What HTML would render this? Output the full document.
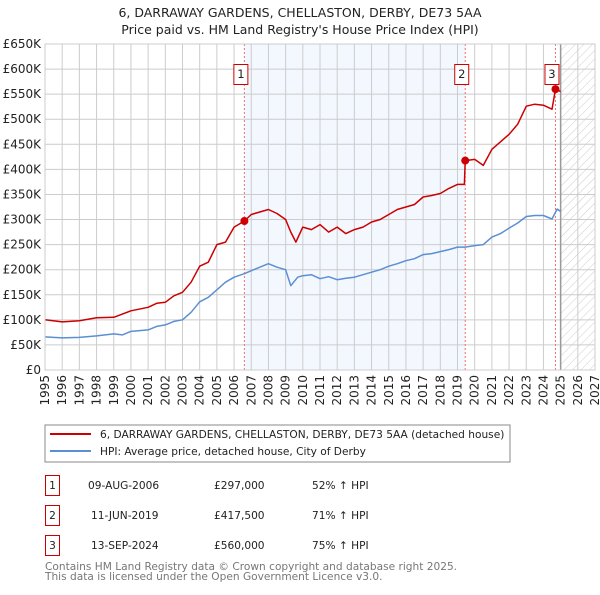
<!DOCTYPE html>
<html><head><meta charset="utf-8"><style>
body{margin:0;background:#fff;font-family:"Liberation Sans","DejaVu Sans",sans-serif;}
svg text{font-family:"DejaVu Sans","Liberation Sans",sans-serif;}
</style></head><body>
<svg id="c" width="600" height="590" xmlns="http://www.w3.org/2000/svg">
<defs><pattern id="hatch" width="6" height="6" patternUnits="userSpaceOnUse" patternTransform="rotate(45)"><line x1="0" y1="0" x2="0" y2="6" stroke="#ccc" stroke-width="1"/></pattern></defs>
<text x="300" y="17" text-anchor="middle" font-size="12.5" fill="#222">6, DARRAWAY GARDENS, CHELLASTON, DERBY, DE73 5AA</text>
<text x="300" y="34" text-anchor="middle" font-size="12.5" fill="#222">Price paid vs. HM Land Registry's House Price Index (HPI)</text>
<g id="plot"></g>
<rect x="45" y="425" width="465" height="37" fill="#fff" stroke="#888"/>
<line x1="50" y1="434" x2="91" y2="434" stroke="#cc0000" stroke-width="2"/>
<text x="100" y="438" font-size="10.6" fill="#222">6, DARRAWAY GARDENS, CHELLASTON, DERBY, DE73 5AA (detached house)</text>
<line x1="50" y1="451" x2="91" y2="451" stroke="#5b8fd4" stroke-width="2"/>
<text x="100" y="455" font-size="10.6" fill="#222">HPI: Average price, detached house, City of Derby</text>
<g font-size="10.6" fill="#222">
<rect x="45.5" y="475.5" width="14" height="20" fill="#fff" stroke="#cc0000"/><text x="52.5" y="489" text-anchor="middle">1</text>
<text x="88" y="489">09-AUG-2006</text><text x="214" y="489">£297,000</text><text x="312" y="489">52% ↑ HPI</text>
<rect x="45.5" y="505.5" width="14" height="20" fill="#fff" stroke="#cc0000"/><text x="52.5" y="519" text-anchor="middle">2</text>
<text x="91" y="519">11-JUN-2019</text><text x="214" y="519">£417,500</text><text x="312" y="519">71% ↑ HPI</text>
<rect x="45.5" y="535.5" width="14" height="20" fill="#fff" stroke="#cc0000"/><text x="52.5" y="549" text-anchor="middle">3</text>
<text x="91" y="549">13-SEP-2024</text><text x="214" y="549">£560,000</text><text x="312" y="549">75% ↑ HPI</text>
</g>
<text x="45" y="570" font-size="10.6" fill="#777">Contains HM Land Registry data © Crown copyright and database right 2025.</text>
<text x="45" y="580" font-size="10.6" fill="#777">This data is licensed under the Open Government Licence v3.0.</text>
</svg>
<script>
const hpiYears=[1995,1996,1997,1998,1999,1999.5,2000,2001,2001.5,2002,2002.5,2003,2003.5,2004,2004.5,2005,2005.5,2006,2006.6,2007,2007.5,2008,2008.5,2009,2009.3,2009.7,2010,2010.5,2011,2011.5,2012,2012.5,2013,2013.5,2014,2014.5,2015,2015.5,2016,2016.5,2017,2017.5,2018,2018.5,2019,2019.45,2020,2020.5,2021,2021.5,2022,2022.5,2023,2023.5,2024,2024.5,2024.8,2025];
const hpiValues=[66,64,65,68,72,70,77,80,87,90,97,100,115,136,145,160,175,185,192,198,205,212,205,200,168,185,188,190,182,186,180,183,185,190,195,200,207,212,218,222,230,232,236,240,245,245,248,250,265,272,283,293,306,308,308,301,321,316];
const propYears=[1995,1996,1997,1998,1999,2000,2001,2001.5,2002,2002.5,2003,2003.5,2004,2004.5,2005,2005.5,2006,2006.6,2007,2007.5,2008,2008.5,2009,2009.3,2009.6,2010,2010.5,2011,2011.5,2012,2012.5,2013,2013.5,2014,2014.5,2015,2015.5,2016,2016.5,2017,2017.5,2018,2018.5,2019,2019.4,2019.45,2020,2020.5,2021,2021.5,2022,2022.5,2023,2023.5,2024,2024.5,2024.7,2025];
const propValues=[100,96,98,104,105,118,125,133,135,148,155,175,207,215,250,255,285,297,310,315,320,312,300,275,255,285,280,290,275,285,272,280,285,295,300,310,320,325,330,345,348,352,362,370,370,417.5,420,408,440,455,470,490,526,530,528,520,560,555];
const saleYears=[2006.6,2019.45,2024.7];
const saleValues=[297,417.5,560];
const saleLabels=["1","2","3"];
const yTicks=[0,50,100,150,200,250,300,350,400,450,500,550,600,650];
const yTickLabels=["£0","£50K","£100K","£150K","£200K","£250K","£300K","£350K","£400K","£450K","£500K","£550K","£600K","£650K"];
const xTicks=[1995,1996,1997,1998,1999,2000,2001,2002,2003,2004,2005,2006,2007,2008,2009,2010,2011,2012,2013,2014,2015,2016,2017,2018,2019,2020,2021,2022,2023,2024,2025,2026,2027];

const L=45,R=595,T=44,B=370,X0=1995,X1=2027,YMAX=650;
const xs=v=>L+(v-X0)/(X1-X0)*(R-L);
const ys=v=>B-v/YMAX*(B-T);
const NS="http://www.w3.org/2000/svg";
const g=document.getElementById('plot');
function mk(tag,attrs,parent){const e=document.createElementNS(NS,tag);for(const k in attrs)e.setAttribute(k,attrs[k]);(parent||g).appendChild(e);return e;}

let e=mk('rect',{x:xs(saleYears[0]),y:T,width:xs(saleYears[1])-xs(saleYears[0]),height:B-T,fill:'#eef3fd',opacity:0.7});


e=mk('rect',{x:xs(2025),y:T,width:R-xs(2025),height:B-T,fill:'url(#hatch)'});


yTicks.forEach((t,i)=>{
  let l=mk('line',{x1:L,x2:R,y1:ys(t),y2:ys(t),stroke:'#ccc','stroke-width':1});
  
  
  let tx=mk('text',{x:L-4,y:ys(t)+4,'text-anchor':'end','font-size':12,fill:'#222'});
  tx.textContent=yTickLabels[i];
  
  
});
xTicks.forEach(t=>{
  let l=mk('line',{x1:xs(t),x2:xs(t),y1:T,y2:B,stroke:'#ccc','stroke-width':1});
  
  
  let tx=mk('text',{x:0,y:0,'text-anchor':'end','font-size':12,fill:'#222',transform:`translate(${xs(t)+4},${B+5}) rotate(-90)`});
  tx.textContent=t;
  
  
});
e=mk('line',{x1:xs(2025),x2:xs(2025),y1:T,y2:B,stroke:'#999','stroke-width':1.5});


saleYears.forEach((s,i)=>{
  let l=mk('line',{x1:xs(s),x2:xs(s),y1:T,y2:B,stroke:'#f07070','stroke-width':1,'stroke-dasharray':'2,2'});
  
  
});
function path(xa,ya,color,name){
  let d=xa.map((x,i)=>(i?'L':'M')+xs(x).toFixed(1)+','+ys(ya[i]).toFixed(1)).join('');
  let p=mk('path',{d:d,fill:'none',stroke:color,'stroke-width':1.5,'stroke-linejoin':'round'});
  
  
}
path(hpiYears,hpiValues,'#5b8fd4','hpi-line');
path(propYears,propValues,'#cc0000','property-price-line');
saleYears.forEach((s,i)=>{
  let c=mk('circle',{cx:xs(s),cy:ys(saleValues[i]),r:4,fill:'#cc0000'});
  
  
  let bx=mk('rect',{x:xs(s)-10.5,y:64.5,width:14,height:20,fill:'#fff',stroke:'#cc0000'});
  
  
  let t=mk('text',{x:xs(s)-3.5,y:78,'text-anchor':'middle','font-size':11.5,fill:'#222'});
  t.textContent=saleLabels[i];
  
  
});
e=mk('rect',{x:L,y:T,width:R-L,height:B-T,fill:'none',stroke:'#ccc'});


</script>
</body></html>
